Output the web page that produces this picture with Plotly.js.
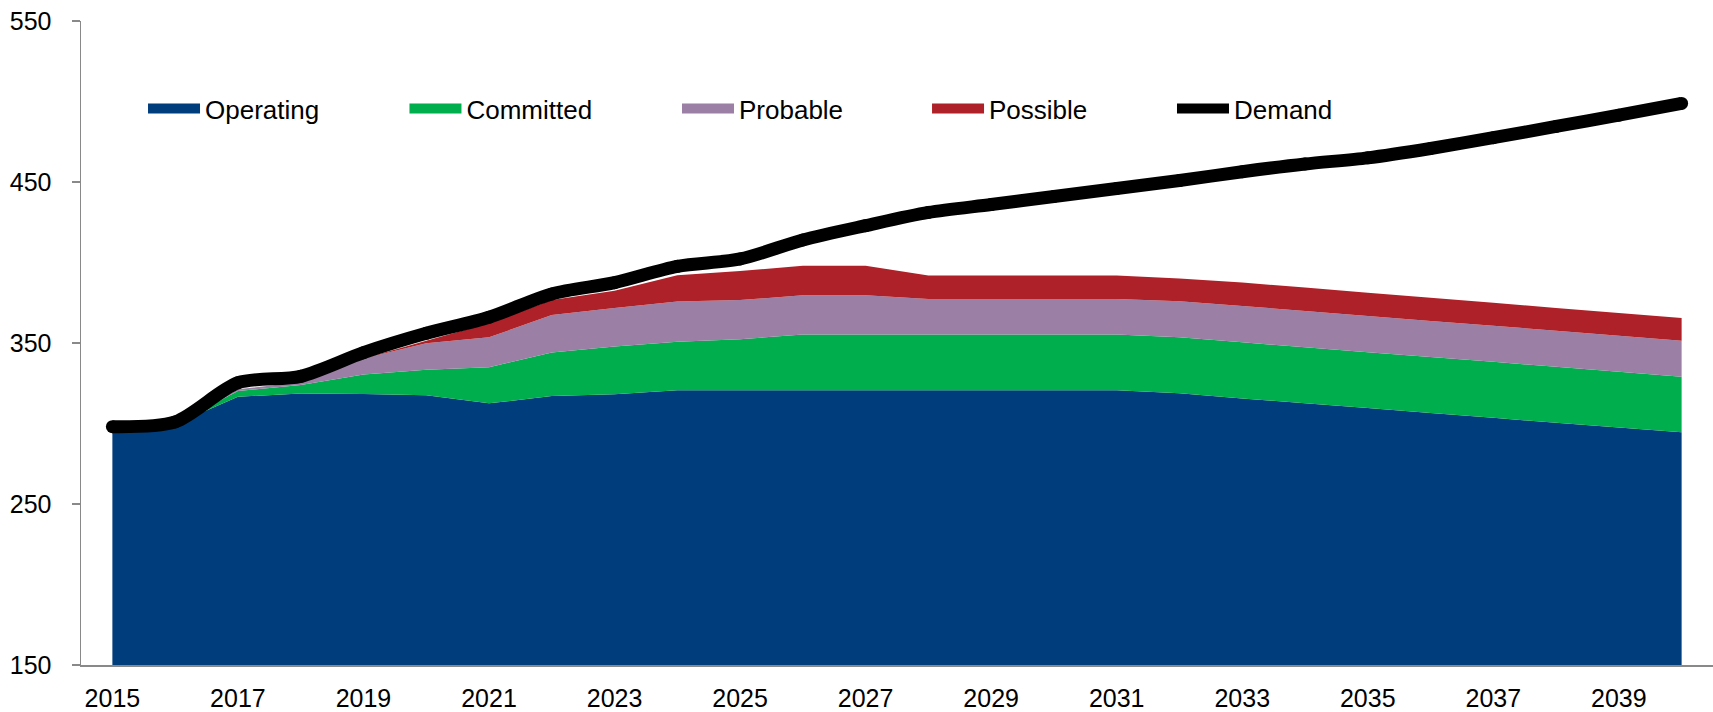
<!DOCTYPE html>
<html>
<head>
<meta charset="utf-8">
<script src="https://cdn.plot.ly/plotly-3.0.1.min.js"></script>
<style>
  html, body { margin: 0; padding: 0; background: #fff; }
  #chart { width: 1713px; height: 712px; }
</style>
</head>
<body>
<div id="chart"></div>
<script>
// ---- data ----
const years = [2015, 2016, 2017, 2018, 2019, 2020, 2021, 2022, 2023, 2024, 2025, 2026, 2027,
               2028, 2029, 2030, 2031, 2032, 2033, 2034, 2035, 2036, 2037, 2038, 2039, 2040];
const operating = [297, 299.5, 316.6, 318.7, 318.3, 317.6, 312.5, 317.1, 318.2, 320.6, 320.6, 320.6, 320.6,
                   320.6, 320.6, 320.6, 320.6, 318.8, 315.6, 312.6, 309.6, 306.5, 303.5, 300.5, 297.5, 294.5];
const committed = [0, 0, 3.6, 5.2, 12.2, 15.8, 22.4, 27.0, 29.7, 30.2, 31.7, 34.7, 34.7,
                   34.7, 34.7, 34.7, 34.7, 34.7, 34.8, 34.8, 34.7, 34.8, 34.8, 34.7, 34.7, 34.6];
const probable = [0, 0, 1.0, 1.9, 9.9, 16.4, 18.6, 23.3, 23.8, 24.9, 24.4, 24.3, 24.3,
                  22.0, 22.0, 22.0, 22.0, 22.4, 22.6, 22.5, 22.5, 22.4, 22.4, 22.4, 22.3, 22.3];
const possible = [0, 0, 0, 0, 0, 1.6, 8.7, 9.3, 10.7, 16.4, 18.0, 18.4, 18.4,
                  14.6, 14.6, 14.6, 14.6, 14.1, 14.5, 14.5, 14.4, 14.4, 14.3, 14.2, 14.2, 14.1];
const demand = [298, 301, 325.3, 329.3, 344, 356, 366, 380.5, 387.5, 397.6, 402.2, 414.0, 422.9,
                431.1, 436, 441, 446, 450.9, 456.4, 461.2, 465, 470.8, 477.5, 484.5, 491.5, 498.8];

const xLabelYears = [2015, 2017, 2019, 2021, 2023, 2025, 2027, 2029, 2031, 2033, 2035, 2037, 2039];
const xLabelText = ['2015', '2017', '2019', '2021', '2023', '2025', '2027', '2029', '2031', '2033', '2035', '2037', '2039'];
const xTickBounds = [2014.5, 2016.5, 2018.5, 2020.5, 2022.5, 2024.5, 2026.5, 2028.5, 2030.5, 2032.5, 2034.5, 2036.5, 2038.5, 2040.5];
const yTickVals = [150, 250, 350, 450, 550];

const names = ['Operating', 'Committed', 'Probable', 'Possible', 'Demand'];
const colors = ['#003D7D', '#00AE4D', '#9B7FA4', '#AE2128', '#000000'];
const seriesList = [operating, committed, probable, possible];

// ---- traces ----
const traces = [];
seriesList.forEach(function (vals, i) {
  traces.push({
    type: 'scatter', x: years, y: vals, name: names[i],
    stackgroup: 'supply', mode: 'none',
    fillcolor: colors[i], line: { width: 0, color: colors[i] },
    legendgroup: names[i], showlegend: false, hoverinfo: 'skip'
  });
});
// demand line (smoothed, as in the original)
traces.push({
  type: 'scatter', x: years, y: demand, name: 'Demand', mode: 'lines',
  line: { color: '#000', width: 13, shape: 'spline', smoothing: 0.8 },
  legend: 'legend5', legendgroup: 'Demand', showlegend: true, hoverinfo: 'skip'
});
// round ends for the demand line
traces.push({
  type: 'scatter', x: years, y: demand, mode: 'markers',
  marker: { color: '#000', size: 13, line: { width: 0 } }, showlegend: false, hoverinfo: 'skip'
});
// legend swatches for the area series
const legendIds = ['legend', 'legend2', 'legend3', 'legend4'];
seriesList.forEach(function (vals, i) {
  traces.push({
    type: 'scatter', x: [null], y: [null], name: names[i], mode: 'lines',
    line: { color: colors[i], width: 14 },
    legend: legendIds[i], legendgroup: names[i], showlegend: true, hoverinfo: 'skip'
  });
});

const axisGrey = '#898989';
const fontFam = '"Liberation Sans", Arial, Helvetica, sans-serif';

function legendAt(x) {
  return {
    x: x, y: 0.8638, xanchor: 'left', yanchor: 'middle', orientation: 'h',
    bgcolor: 'rgba(0,0,0,0)', borderwidth: 0, itemwidth: 52,
    font: { family: fontFam, size: 26, color: '#000' },
    itemclick: false, itemdoubleclick: false
  };
}

const layout = {
  width: 1713, height: 712,
  margin: { l: 81, r: 0, t: 21, b: 47, pad: 0 },
  paper_bgcolor: '#fff', plot_bgcolor: '#fff',
  font: { family: fontFam, size: 25, color: '#000' },
  showlegend: true,
  xaxis: {
    range: [2014.5, 2040.5], tickmode: 'array', tickvals: xLabelYears, ticktext: xLabelText,
    ticks: '', showline: true, linecolor: axisGrey, linewidth: 1.5,
    showgrid: false, zeroline: false, ticklabelstandoff: 10,
    tickfont: { family: fontFam, size: 25, color: '#000' }
  },
  xaxis2: {
    overlaying: 'x', anchor: 'y', side: 'bottom', range: [2014.5, 2040.5],
    tickmode: 'array', tickvals: xTickBounds, ticks: 'outside', ticklen: 7, tickwidth: 1.5,
    tickcolor: axisGrey, showticklabels: false, showline: false, showgrid: false, zeroline: false
  },
  yaxis: {
    range: [150, 550], tickmode: 'array', tickvals: yTickVals,
    ticks: 'outside', ticklen: 8, tickwidth: 1.5, tickcolor: axisGrey,
    showline: true, linecolor: axisGrey, linewidth: 1.5,
    showgrid: false, zeroline: false, ticklabelstandoff: 15,
    tickfont: { family: fontFam, size: 25, color: '#000' }
  },
  legend: legendAt(0.0380),
  legend2: legendAt(0.1982),
  legend3: legendAt(0.3652),
  legend4: legendAt(0.5184),
  legend5: legendAt(0.6685)
};

Plotly.newPlot('chart', traces, layout, { displayModeBar: false, staticPlot: true });
</script>
</body>
</html>
